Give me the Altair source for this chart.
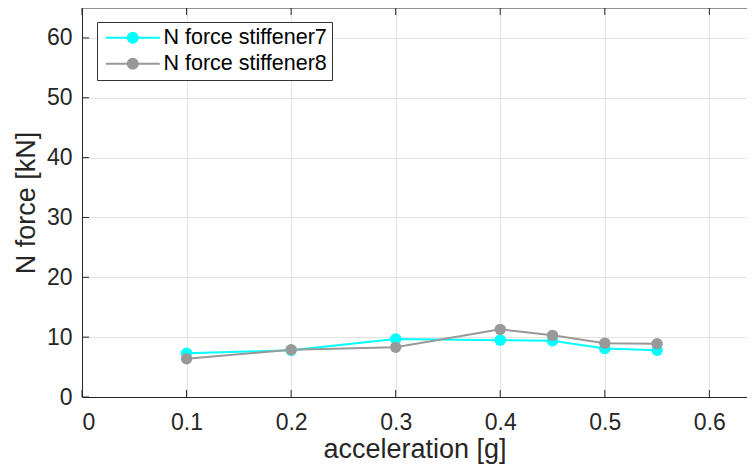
import altair as alt
import pandas as pd

# ---- data ----
accel = [0.1, 0.2, 0.3, 0.4, 0.45, 0.5, 0.55]
stiffener7 = [7.3, 7.8, 9.7, 9.5, 9.4, 8.1, 7.8]
stiffener8 = [6.4, 7.9, 8.3, 11.3, 10.3, 9.0, 8.9]
series_names = ["N force stiffener7", "N force stiffener8"]
series_colors = ["#00ffff", "#999999"]
x_ticks = [0, 0.1, 0.2, 0.3, 0.4, 0.5, 0.6]
y_ticks = [0, 10, 20, 30, 40, 50, 60]

df = pd.DataFrame({
    "acc": accel + accel,
    "force": stiffener7 + stiffener8,
    "series": [series_names[0]] * len(accel) + [series_names[1]] * len(accel),
})
xt = pd.DataFrame({"t": x_ticks})
yt = pd.DataFrame({"t": y_ticks})

W, H = 665, 389
FONT = "Liberation Sans"
INK = "#262626"

xscale = alt.Scale(domain=[0, 0.636], nice=False, zero=False)
yscale = alt.Scale(domain=[0, 65], nice=False, zero=False)

# legend glyph: a line segment with a dot in its middle
legend_path = ("M-3.86,0L3.86,0M-0.72,0A0.72,0.72,0,1,1,0.72,0"
               "A0.72,0.72,0,1,1,-0.72,0Z")

lines = alt.Chart(df).mark_line(
    strokeWidth=2,
    point=alt.OverlayMarkDef(filled=True, size=130, opacity=1),
).encode(
    x=alt.X("acc:Q", scale=xscale,
            axis=alt.Axis(values=x_ticks, format="~g", title="acceleration [g]",
                          grid=True, ticks=False, labelPadding=14,
                          titlePadding=2)),
    y=alt.Y("force:Q", scale=yscale,
            axis=alt.Axis(values=y_ticks, title="N force [kN]", grid=True,
                          ticks=False, labelPadding=10,
                          titlePadding=6)),
    color=alt.Color("series:N",
                    scale=alt.Scale(domain=series_names, range=series_colors),
                    legend=alt.Legend(
                        title=None, orient="none", legendX=15, legendY=14,
                        symbolType=legend_path, symbolSize=196,
                        symbolStrokeWidth=2, labelFontSize=21.5, labelFont=FONT,
                        labelColor="#000000", fillColor="white", labelLimit=400,
                        strokeColor="#333333", padding=5, rowPadding=3,
                        labelOffset=20, symbolOffset=20)),
)

bottom_ticks = alt.Chart(xt).mark_rule(color=INK, strokeWidth=1).encode(
    x=alt.X("t:Q", scale=xscale), y=alt.value(H), y2=alt.value(H - 7))
top_ticks = alt.Chart(xt).mark_rule(color=INK, strokeWidth=1).encode(
    x=alt.X("t:Q", scale=xscale), y=alt.value(0), y2=alt.value(7))
left_ticks = alt.Chart(yt).mark_rule(color=INK, strokeWidth=1).encode(
    y=alt.Y("t:Q", scale=yscale), x=alt.value(0), x2=alt.value(7))
top_border = alt.Chart(pd.DataFrame({"a": [0]})).mark_rule(
    color=INK, strokeWidth=1).encode(y=alt.value(0), x=alt.value(0), x2=alt.value(W))

chart = alt.layer(lines, bottom_ticks, top_ticks, left_ticks, top_border).properties(
    width=W, height=H,
    autosize=alt.AutoSizeParams(type="none"),
    padding={"left": 74, "top": 0, "right": 0, "bottom": 68},
).configure_view(stroke=None).configure_axis(
    domainColor=INK, domainWidth=1, gridColor="#e3e3e3", gridWidth=1,
    labelFont=FONT, labelFontSize=23, labelColor=INK,
    titleFont=FONT, titleFontSize=27, titleColor=INK, titleFontWeight="normal",
)

chart.save("out.html", embed_options={"renderer": "svg", "actions": False})
